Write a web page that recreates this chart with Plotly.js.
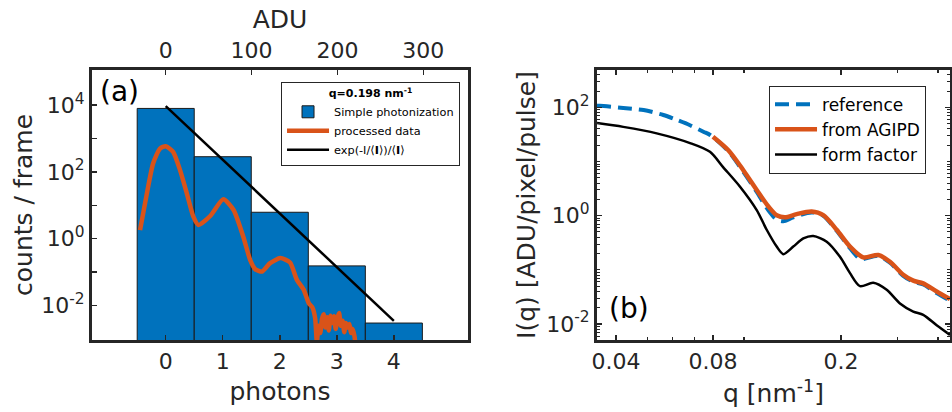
<!DOCTYPE html>
<html>
<head>
<meta charset="utf-8">
<script src="https://cdn.plot.ly/plotly-3.0.1.min.js"></script>
<style>html,body{margin:0;padding:0;background:#fff;}#chart{width:952px;height:412px;}</style>
</head>
<body>
<div id="chart"></div>
<script>
// ---------- Panel (a) data ----------
var photonBins = [0, 1, 2, 3, 4];
var simpleCounts = [7940, 285, 6.2, 0.154, 0.0030];

var processedX = [-0.45, -0.33, -0.22, -0.10, 0.0, 0.13, 0.25, 0.37, 0.485, 0.573, 0.78, 1.01, 1.19, 1.36, 1.48, 1.57, 1.69, 1.83, 2.01, 2.18, 2.30, 2.42, 2.51, 2.57, 2.62,
  2.65, 2.68, 2.71, 2.74, 2.77, 2.80, 2.83, 2.86, 2.89, 2.92, 2.95, 2.98, 3.01, 3.04, 3.07, 3.10, 3.13, 3.16, 3.19, 3.22, 3.25, 3.28, 3.31, 3.33];
var processedY = [1.82, 22.9, 182, 501, 589, 398, 115, 22.9, 4.57, 2.57, 4.79, 15.1, 7.24, 1.15, 0.234, 0.123, 0.105, 0.186, 0.263, 0.195, 0.0589, 0.0295, 0.0117, 0.0089, 0.0042,
  0.0008, 0.0025, 0.0015, 0.0040, 0.0055, 0.0022, 0.0045, 0.0018, 0.0050, 0.0030, 0.0048, 0.0020, 0.0042, 0.0060, 0.0025, 0.0035, 0.0016, 0.0030, 0.0022, 0.0028, 0.0015, 0.0020, 0.0012, 0.0006];

var expX = [0, 4];
var expY = [9300, 0.0035];

var photonTicks = [0, 1, 2, 3, 4];
var aduTicks = [0, 100, 200, 300];
var countTickVals = [0.01, 1, 100, 10000];
var countTickText = ['10<sup>-2</sup>', '10<sup>0</sup>', '10<sup>2</sup>', '10<sup>4</sup>'];
var countMinorVals = [0.1, 10, 1000];

// ---------- Panel (b) data ----------
var refQ = [0.0349, 0.0356, 0.0421, 0.0487, 0.0561, 0.0617, 0.0679, 0.0747, 0.0784, 0.0893, 0.0994, 0.1094, 0.1189, 0.1262, 0.1323, 0.1421, 0.1621, 0.1761, 0.1938, 0.2132, 0.2290, 0.2345, 0.2611, 0.2838, 0.3121, 0.3352, 0.3600, 0.3963, 0.436];
var refI = [107, 107, 97.7, 89.1, 72.4, 58.9, 46.8, 35.5, 30.9, 15.5, 6.46, 2.75, 1.26, 0.85, 0.79, 0.93, 1.15, 1.0, 0.525, 0.251, 0.158, 0.158, 0.182, 0.135, 0.0776, 0.0603, 0.0537, 0.0372, 0.0269];

var agipdQ = [0.08, 0.0893, 0.0994, 0.1094, 0.1189, 0.1262, 0.1339, 0.1456, 0.1621, 0.1761, 0.1938, 0.2132, 0.2345, 0.2611, 0.2838, 0.3121, 0.3352, 0.3600, 0.3963, 0.436];
var agipdI = [28.8, 16.2, 6.92, 2.99, 1.48, 1.02, 0.933, 1.07, 1.19, 1.02, 0.55, 0.269, 0.170, 0.188, 0.141, 0.0813, 0.0631, 0.0562, 0.0398, 0.0288];

var formQ = [0.0349, 0.0421, 0.0535, 0.0679, 0.0783, 0.0860, 0.0971, 0.1094, 0.1175, 0.1262, 0.1323, 0.1421, 0.1527, 0.1640, 0.1805, 0.1985, 0.2132, 0.2290, 0.2518, 0.2772, 0.3048, 0.3352, 0.3600, 0.3963, 0.436];
var formI = [51.3, 43.6, 33.1, 21.9, 15.1, 7.9, 3.43, 1.27, 0.55, 0.269, 0.195, 0.269, 0.380, 0.422, 0.331, 0.174, 0.087, 0.050, 0.0575, 0.0427, 0.024, 0.0170, 0.0148, 0.0095, 0.0063];

var qTickVals = [0.04, 0.08, 0.2];
var qTickText = ['0.04', '0.08', '0.2'];
var qMinorVals = [0.05, 0.06, 0.07, 0.1, 0.3, 0.4];
var iTickVals = [0.01, 1, 100];
var iTickText = ['10<sup>-2</sup>', '10<sup>0</sup>', '10<sup>2</sup>'];

// ---------- styles ----------
var FONT = 'DejaVu Sans, Verdana, sans-serif';
var AX = '#262626';
var BLUE = '#0072BD', ORANGE = '#D95319';

var traces = [
  {type: 'bar', x: photonBins, y: simpleCounts, width: 1, name: 'Simple photonization',
   marker: {color: BLUE, line: {color: '#1a1a1a', width: 1}}, xaxis: 'x', yaxis: 'y', legend: 'legend'},
  {type: 'scatter', mode: 'lines', x: processedX, y: processedY, name: 'processed data',
   line: {color: ORANGE, width: 4.5, shape: 'spline', smoothing: 0.6}, xaxis: 'x', yaxis: 'y', legend: 'legend'},
  {type: 'scatter', mode: 'lines', x: expX, y: expY, name: 'exp(-I/\u27E8<b>I</b>\u27E9)/\u27E8<b>I</b>\u27E9',
   line: {color: '#000', width: 2.5}, xaxis: 'x', yaxis: 'y', legend: 'legend'},
  {type: 'scatter', mode: 'lines', x: [], y: [], xaxis: 'x2', yaxis: 'y', showlegend: false, hoverinfo: 'skip'},

  {type: 'scatter', mode: 'lines', x: refQ, y: refI, name: 'reference',
   line: {color: BLUE, width: 4, dash: '14px,7px', shape: 'spline', smoothing: 0.8}, xaxis: 'x3', yaxis: 'y3', legend: 'legend2'},
  {type: 'scatter', mode: 'lines', x: agipdQ, y: agipdI, name: 'from AGIPD',
   line: {color: ORANGE, width: 4.5, shape: 'spline', smoothing: 0.8}, xaxis: 'x3', yaxis: 'y3', legend: 'legend2'},
  {type: 'scatter', mode: 'lines', x: formQ, y: formI, name: 'form factor',
   line: {color: '#000', width: 2.5, shape: 'spline', smoothing: 0.8}, xaxis: 'x3', yaxis: 'y3', legend: 'legend2'}
];

var tickFont = {family: FONT, size: 22, color: AX};
var titleFont = {family: FONT, size: 25, color: AX};

var layout = {
  width: 952, height: 412,
  margin: {l: 0, r: 0, t: 0, b: 0},
  paper_bgcolor: '#fff', plot_bgcolor: '#fff',
  font: {family: FONT, color: AX},
  bargap: 0,
  showlegend: true,
  xaxis: {domain: [0.0966, 0.4916], anchor: 'y', range: [-1.293, 5.30],
    tickmode: 'array', tickvals: photonTicks, ticks: 'inside', ticklen: 5, tickwidth: 1.5, tickcolor: AX,
    showline: true, linewidth: 3, linecolor: AX, mirror: false, showgrid: false, zeroline: false,
    tickfont: tickFont, title: {text: 'photons', font: titleFont, standoff: 10}},
  xaxis2: {overlaying: 'x', side: 'top', anchor: 'y', range: [-85.8, 352],
    tickmode: 'array', tickvals: aduTicks, ticks: 'inside', ticklen: 5, tickwidth: 1.5, tickcolor: AX,
    showline: true, linewidth: 3, linecolor: AX, showgrid: false, zeroline: false,
    tickfont: tickFont, title: {text: 'ADU', font: titleFont, standoff: 3}},
  yaxis: {domain: [0.1748, 0.8301], anchor: 'x', type: 'log', range: [-3.03, 5.05],
    tickmode: 'array', tickvals: countTickVals, ticktext: countTickText, ticks: 'inside', ticklen: 5, tickwidth: 1.5, tickcolor: AX,
    minor: {tickmode: 'array', tickvals: countMinorVals, ticks: 'inside', ticklen: 5, tickwidth: 1.5, tickcolor: AX},
    showline: true, linewidth: 3, linecolor: AX, mirror: true, showgrid: false, zeroline: false,
    tickfont: tickFont, title: {text: 'counts / frame', font: titleFont, standoff: 2}},

  xaxis3: {domain: [0.6271, 0.9979], anchor: 'y3', type: 'log', range: [Math.log10(0.0349), Math.log10(0.436)],
    tickmode: 'array', tickvals: qTickVals, ticktext: qTickText, ticks: 'inside', ticklen: 5, tickwidth: 1.5, tickcolor: AX,
    minor: {tickmode: 'array', tickvals: qMinorVals, ticks: 'inside', ticklen: 3, tickwidth: 1.5, tickcolor: AX},
    showline: true, linewidth: 3, linecolor: AX, mirror: 'ticks', showgrid: false, zeroline: false,
    tickfont: tickFont, title: {text: 'q [nm<sup>-1</sup>]', font: titleFont, standoff: 12}},
  yaxis3: {domain: [0.1748, 0.8301], anchor: 'x3', type: 'log', range: [-2.295, 2.69],
    tickmode: 'array', tickvals: iTickVals, ticktext: iTickText, ticks: 'inside', ticklen: 5, tickwidth: 1.5, tickcolor: AX,
    minor: {dtick: 'D1', ticks: 'inside', ticklen: 3, tickwidth: 1, tickcolor: AX},
    showline: true, linewidth: 3, linecolor: AX, mirror: 'ticks', showgrid: false, zeroline: false,
    tickfont: tickFont, title: {text: 'I(q) [ADU/pixel/pulse]', font: titleFont, standoff: 4}},

  legend: {x: 0.2952, y: 0.801, xanchor: 'left', yanchor: 'top', bgcolor: '#fff', bordercolor: AX, borderwidth: 1,
    font: {family: FONT, size: 11.3, color: '#000'}, itemwidth: 42, tracegroupgap: 0, traceorder: 'normal',
    title: {text: '<b>q=0.198 nm<sup>-1</sup></b>', side: 'top center', font: {family: FONT, size: 11, color: '#000'}}},
  legend2: {x: 0.8078, y: 0.792, xanchor: 'left', yanchor: 'top', bgcolor: '#fff', bordercolor: AX, borderwidth: 1,
    font: {family: FONT, size: 17, color: '#000'}, itemwidth: 42, tracegroupgap: 0, traceorder: 'normal'},

  shapes: [
    {type: 'line', xref: 'paper', yref: 'paper', x0: 0.2952, x1: 0.48, y0: 0.75, y1: 0.75, line: {color: AX, width: 1}}
  ],
  annotations: [
    {text: '(a)', xref: 'paper', yref: 'paper', x: 0.125, y: 0.7767, xanchor: 'center', yanchor: 'middle', showarrow: false, font: {family: FONT, size: 28, color: '#000'}},
    {text: '(b)', xref: 'paper', yref: 'paper', x: 0.6607, y: 0.2524, xanchor: 'center', yanchor: 'middle', showarrow: false, font: {family: FONT, size: 28, color: '#000'}}
  ]
};

Plotly.newPlot('chart', traces, layout, {displayModeBar: false, staticPlot: true});
</script>
</body>
</html>
